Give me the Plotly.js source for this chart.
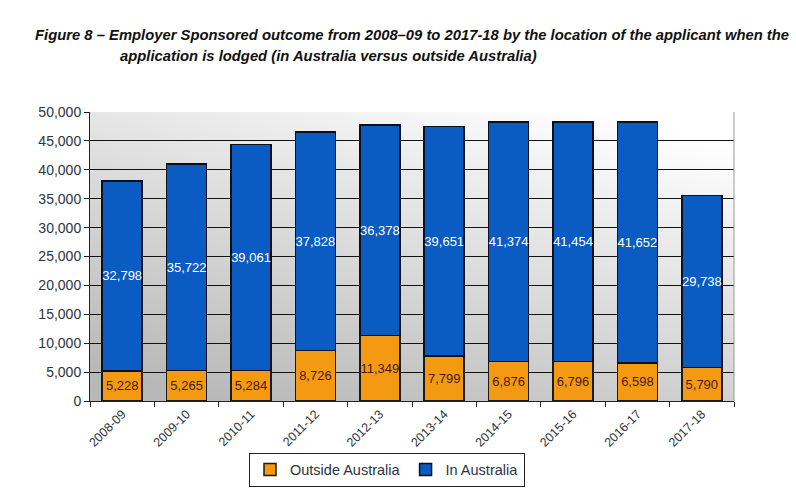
<!DOCTYPE html>
<html><head><meta charset="utf-8">
<script src="https://cdn.plot.ly/plotly-3.0.1.min.js"></script>
<style>html,body{margin:0;padding:0;background:#fff;}#chart{width:796px;height:498px;}</style>
</head><body><div id="chart"></div>
<script>
const categories = ['2008-09','2009-10','2010-11','2011-12','2012-13','2013-14','2014-15','2015-16','2016-17','2017-18'];
const outsideAustralia = [5228,5265,5284,8726,11349,7799,6876,6796,6598,5790];
const inAustralia = [32798,35722,39061,37828,36378,39651,41374,41454,41652,29738];
const yTicks = [0,5000,10000,15000,20000,25000,30000,35000,40000,45000,50000];
const fmt = v => v.toLocaleString('en-US');

const bg = 'data:image/svg+xml;utf8,' + encodeURIComponent(
 '<svg xmlns="http://www.w3.org/2000/svg" width="100" height="100" preserveAspectRatio="none"><defs><linearGradient id="g" x1="0.8" y1="0" x2="0.2" y2="1"><stop offset="0" stop-color="#ffffff"/><stop offset="1" stop-color="#b8b8b8"/></linearGradient></defs><rect width="100" height="100" fill="url(#g)"/></svg>');

const titleFont = {family:'Liberation Sans, Arial, sans-serif', size:14.8, color:'#111', weight:'bold', style:'italic'};
const common = {type:'bar', x:categories, width:0.62, textposition:'inside', insidetextanchor:'middle',
  constraintext:'none', textangle:0, hoverinfo:'skip', cliponaxis:false};
const traces = [
 Object.assign({}, common, {name:'Outside Australia', y:outsideAustralia, text:outsideAustralia.map(fmt),
  marker:{color:'#f39a12', line:{color:'#1a1a1a', width:1.5}},
  textfont:{family:'Liberation Sans, Arial, sans-serif', size:13, color:'#4a1808'}}),
 Object.assign({}, common, {name:'In Australia', y:inAustralia, text:inAustralia.map(fmt),
  marker:{color:'#0a5cc2', line:{color:'#0a0f1a', width:1.5}},
  textfont:{family:'Liberation Sans, Arial, sans-serif', size:13, color:'#ffffff'}})
];
const layout = {
 width:796, height:498, barmode:'stack',
 margin:{l:90, r:62, t:112, b:91},
 paper_bgcolor:'#ffffff', plot_bgcolor:'rgba(0,0,0,0)',
 font:{family:'Liberation Sans, Arial, sans-serif', color:'#2b3440'},
 showlegend:true,
 title:{text:'Figure 8 – Employer Sponsored outcome from 2008–09 to 2017-18 by the location of the applicant when the',
   font:titleFont, xref:'container', x:35/796, xanchor:'left', yref:'container', y:1-35/498, yanchor:'middle'},
 annotations:[{text:'application is lodged (in Australia versus outside Australia)', xref:'paper', yref:'paper',
   x:(118-90)/644, xanchor:'left', y:(407-55)/295, yanchor:'middle', showarrow:false, font:titleFont}],
 images:[{source:bg, xref:'paper', yref:'paper', x:0, y:1, sizex:1, sizey:1, sizing:'stretch', layer:'below', xanchor:'left', yanchor:'top'}],
 xaxis:{type:'category', tickangle:-45, tickfont:{size:12.5, color:'#2b3440'}, ticks:'outside', tickson:'boundaries',
   ticklen:5, tickcolor:'#222', showline:true, linecolor:'#222', linewidth:1, showgrid:false, zeroline:false},
 yaxis:{range:[0,50000], tickvals:yTicks, ticktext:yTicks.map(fmt), tickfont:{size:14, color:'#2b3440'},
   ticks:'outside', ticklen:5, tickcolor:'#222', showline:true, linecolor:'#222', linewidth:1,
   showgrid:true, gridcolor:'#111', gridwidth:1, zeroline:false},
 legend:{orientation:'h', x:(387-90)/644, xanchor:'center', y:(407-477)/295, yanchor:'middle',
   bordercolor:'#222', borderwidth:1, bgcolor:'rgba(255,255,255,0)', font:{size:14.5, color:'#2b3440'},
   traceorder:'normal', itemwidth:30},
 shapes:[{type:'line', xref:'paper', yref:'paper', x0:1, x1:1, y0:0, y1:1, line:{color:'#999', width:1}}]
};
Plotly.newPlot('chart', traces, layout, {displayModeBar:false, staticPlot:true});
</script></body></html>
